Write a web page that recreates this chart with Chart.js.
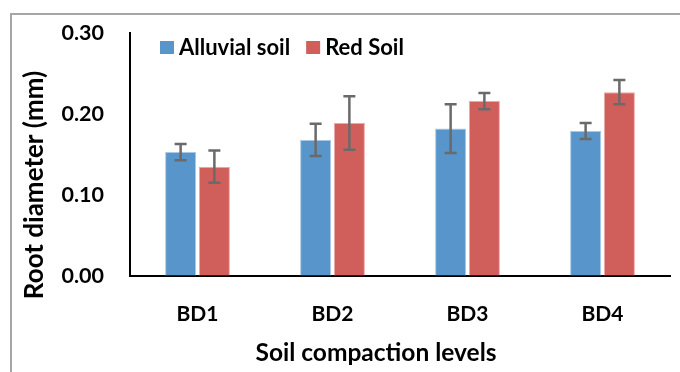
<!DOCTYPE html>
<html>
<head>
<meta charset="utf-8">
<script src="https://cdn.jsdelivr.net/npm/chart.js@4"></script>
<style>
  body { margin: 0; background: #fff; overflow: hidden; }
  #frame { position: absolute; left: 10px; top: 13px; width: 720px; height: 420px; border: 2px solid #a6a6a6; }
  #wrap { position: absolute; left: 0; top: 0; width: 680px; height: 372px; }
</style>
</head>
<body>
<div id="frame"></div>
<div id="wrap"><canvas id="grafico" width="680" height="372"></canvas></div>
<script>
const categories = ['BD1', 'BD2', 'BD3', 'BD4'];
const alluvial = [0.153, 0.168, 0.182, 0.179];
const alluvialErr = [0.010, 0.020, 0.030, 0.010];
const redSoil = [0.135, 0.189, 0.216, 0.227];
const redSoilErr = [0.020, 0.033, 0.010, 0.015];
const yTicks = [0, 0.1, 0.2, 0.3];
const xTitle = 'Soil compaction levels';
const yTitle = 'Root diameter (mm)';

const FONT = 'Lato, "Open Sans", sans-serif';

// error bars drawn through the y scale
const errorBars = {
    id: 'errorBars',
    afterDatasetsDraw(chart) {
        const ctx = chart.ctx;
        const y = chart.scales.y;
        ctx.save();
        ctx.strokeStyle = '#6a6a6a';
        ctx.lineWidth = 2.5;
        chart.data.datasets.forEach(function(ds, i) {
            const meta = chart.getDatasetMeta(i);
            meta.data.forEach(function(bar, j) {
                const v = ds.data[j], e = ds.errors[j];
                const top = y.getPixelForValue(v + e);
                const bot = y.getPixelForValue(v - e);
                ctx.beginPath();
                ctx.moveTo(bar.x, top); ctx.lineTo(bar.x, bot);
                ctx.moveTo(bar.x - 6, top); ctx.lineTo(bar.x + 6, top);
                ctx.moveTo(bar.x - 6, bot); ctx.lineTo(bar.x + 6, bot);
                ctx.stroke();
            });
        });
        ctx.restore();
    }
};

// legend inside the plot + axis titles (they sit off-centre in the original)
const extras = {
    id: 'extras',
    afterDraw(chart) {
        const ctx = chart.ctx;
        ctx.save();
        ctx.fillStyle = '#000';
        ctx.textBaseline = 'middle';

        let x = 160;
        const yc = 47;
        ctx.font = 'bold 22px ' + FONT;
        chart.data.datasets.forEach(function(ds) {
            ctx.fillStyle = ds.backgroundColor;
            ctx.fillRect(x, yc - 6, 14, 13);
            ctx.fillStyle = '#000';
            ctx.textAlign = 'left';
            ctx.fillText(ds.label, x + 19, yc + 1);
            x += 19 + ctx.measureText(ds.label).width + 16;
        });

        ctx.textAlign = 'center';
        ctx.font = 'bold 24.5px ' + FONT;
        ctx.fillText(xTitle, 376, 353);

        ctx.translate(35, 185);
        ctx.rotate(-Math.PI / 2);
        ctx.font = 'bold 26px ' + FONT;
        ctx.fillText(yTitle, 0, 0);
        ctx.restore();
    }
};

new Chart(document.getElementById('grafico'), {
    type: 'bar',
    data: {
        labels: categories,
        datasets: [
            {
                label: 'Alluvial soil',
                data: alluvial,
                errors: alluvialErr,
                backgroundColor: '#5795cb',
                borderColor: '#a9c8e6',
                borderWidth: 1
            },
            {
                label: 'Red Soil',
                data: redSoil,
                errors: redSoilErr,
                backgroundColor: '#d05e5b',
                borderColor: '#eaa9a7',
                borderWidth: 1
            }
        ]
    },
    options: {
        responsive: false,
        animation: false,
        categoryPercentage: 0.5,
        barPercentage: 0.92,
        layout: { padding: { left: 0, right: 10, top: 33, bottom: 0 } },
        plugins: {
            legend: { display: false },
            tooltip: { enabled: false }
        },
        scales: {
            x: {
                grid: { drawOnChartArea: false, drawTicks: false },
                border: { display: true, color: '#000', width: 2 },
                ticks: { color: '#000', padding: 26, font: { family: FONT, size: 21, weight: 'bold' } },
                afterFit(scale) {
                    scale.height = 96;
                    scale.paddingLeft = 0;
                    scale.paddingRight = 0;
                }
            },
            y: {
                min: 0,
                max: 0.3,
                grid: { drawOnChartArea: false, drawTicks: false },
                border: { display: true, color: '#000', width: 2 },
                afterBuildTicks(scale) { scale.ticks = yTicks.map(function(v) { return { value: v }; }); },
                ticks: {
                    color: '#000',
                    padding: 26,
                    font: { family: FONT, size: 21.5, weight: 'bold' },
                    callback: function(value) { return Number(value).toFixed(2); }
                },
                afterFit(scale) {
                    scale.width = 130;
                    scale.paddingTop = 0;
                    scale.paddingBottom = 0;
                }
            }
        }
    },
    plugins: [errorBars, extras]
});
</script>
</body>
</html>
